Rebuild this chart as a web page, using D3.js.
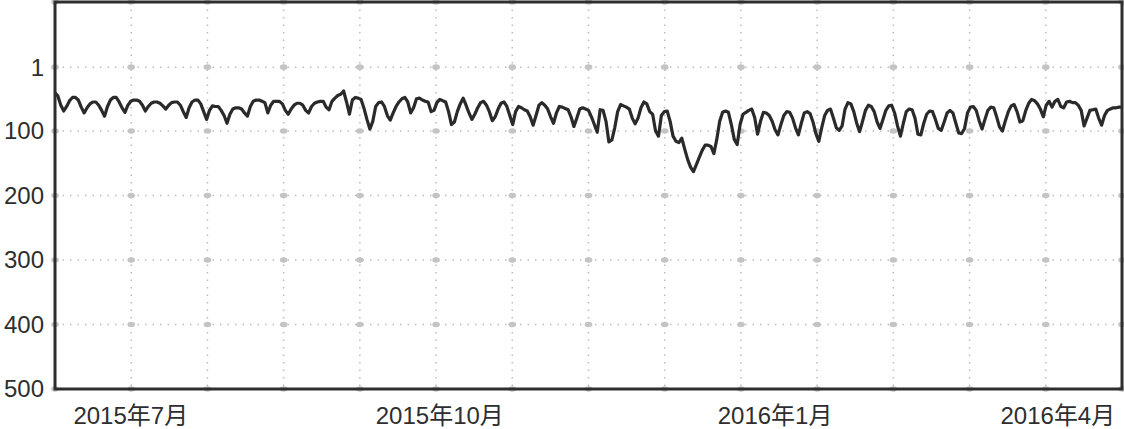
<!DOCTYPE html>
<html>
<head>
<meta charset="utf-8">
<title>Rank chart</title>
<script src="https://cdn.jsdelivr.net/npm/d3@7"></script>
<style>
body { margin: 0; background: #fff; }
text { font-family: "Liberation Sans", Arial, "Noto Sans CJK SC", sans-serif; font-size: 24px; fill: #2e2e2e; }
</style>
</head>
<body>
<svg id="chart" width="1124" height="429"></svg>
<script>
// daily rank, one row per week
var rank = [
  41, 46, 60, 69, 62, 53, 48,
  48, 52, 63, 72, 64, 58, 55,
  55, 60, 68, 77, 62, 52, 48,
  48, 55, 64, 71, 60, 54, 52,
  52, 54, 60, 69, 62, 57, 55,
  55, 57, 61, 66, 60, 56, 55,
  55, 60, 70, 79, 64, 55, 52,
  52, 58, 70, 82, 68, 61, 62,
  62, 68, 76, 88, 74, 66, 64,
  64, 66, 72, 77, 62, 54, 52,
  52, 54, 56, 72, 60, 54, 54,
  54, 58, 68, 74, 66, 60, 57,
  57, 60, 68, 72, 62, 57, 55,
  54, 54, 63, 67, 54, 49, 45,
  43, 38, 55, 74, 52, 48, 49,
  51, 65, 82, 97, 85, 62, 56,
  55, 62, 76, 83, 72, 62, 55,
  50, 48, 55, 72, 64, 50, 49,
  52, 54, 55, 70, 68, 56, 51,
  53, 55, 70, 90, 86, 70, 58,
  49, 60, 72, 82, 74, 64, 56,
  54, 60, 70, 84, 78, 66, 57,
  55, 62, 76, 90, 70, 62, 64,
  67, 69, 78, 91, 76, 60, 56,
  60, 66, 78, 88, 72, 62, 63,
  65, 67, 78, 93, 80, 66, 64,
  66, 68, 78, 90, 102, 67, 68,
  85, 117, 114, 95, 70, 59, 61,
  63, 66, 80, 89, 80, 64, 55,
  58, 70, 74, 100, 108, 76, 70,
  69, 85, 108, 116, 118, 111, 128,
  144, 156, 163, 152, 141, 130, 122,
  122, 124, 135, 113, 85, 71, 69,
  71, 90, 113, 121, 90, 74, 71,
  68, 66, 79, 105, 85, 71, 72,
  76, 85, 98, 106, 90, 76, 70,
  71, 80, 95, 106, 88, 72, 70,
  73, 86, 104, 116, 95, 76, 68,
  66, 80, 95, 99, 92, 66, 56,
  58, 70, 88, 101, 85, 68, 60,
  62, 70, 86, 96, 82, 68, 61,
  60, 72, 92, 108, 88, 70, 66,
  67, 80, 105, 106, 88, 74, 69,
  70, 82, 96, 99, 86, 72, 68,
  72, 88, 103, 104, 96, 72, 63,
  62, 68, 84, 97, 82, 68, 63,
  64, 78, 94, 100, 84, 70, 61,
  59, 70, 86, 84, 68, 57, 51,
  53, 58, 66, 78, 60, 54, 63,
  54, 51, 62, 64, 55, 54, 56,
  56, 60, 68, 92, 80, 68, 67,
  66, 80, 91, 76, 68, 66, 64,
  64, 63, 63
];

var yTicks = [1, 100, 200, 300, 400, 500];
var xTickIdx = [26, 132, 247, 344];
var xTickLabels = ["2015年7月", "2015年10月", "2016年1月", "2016年4月"];

var plotL = 55, plotR = 1122, plotT = 2, plotB = 389;
var svg = d3.select("#chart");

var x = d3.scaleLinear().domain([0, rank.length - 1]).range([plotL, plotR]);
var y = d3.scaleLinear().domain([-100, 500]).range([plotT, plotB]);

// 14 equal columns, grid rows at the ticks
var gridX = d3.range(0, 15).map(function(k) { return k * (rank.length - 1) / 14; });
var gridY = [-100].concat(yTicks);

var grid = svg.append("g");
grid.selectAll("line.v")
  .data(gridX.slice(1, 14))
  .enter().append("line")
  .attr("x1", function(d) { return x(d); })
  .attr("x2", function(d) { return x(d); })
  .attr("y1", plotT)
  .attr("y2", plotB)
  .attr("stroke", "#bdbdbd")
  .attr("stroke-width", 1.5)
  .attr("stroke-dasharray", "1.5,6");

grid.selectAll("line.h")
  .data(yTicks.slice(0, 5))
  .enter().append("line")
  .attr("x1", plotL)
  .attr("x2", plotR)
  .attr("y1", function(d) { return y(d); })
  .attr("y2", function(d) { return y(d); })
  .attr("stroke", "#bdbdbd")
  .attr("stroke-width", 1.5)
  .attr("stroke-dasharray", "1.5,6");

var cross = [];
gridX.forEach(function(gx) { gridY.forEach(function(gy) { cross.push([gx, gy]); }); });
grid.selectAll("ellipse")
  .data(cross)
  .enter().append("ellipse")
  .attr("cx", function(d) { return x(d[0]); })
  .attr("cy", function(d) { return y(d[1]); })
  .attr("rx", 3.8)
  .attr("ry", 2.8)
  .attr("fill", "#c4c4c4");

var line = d3.line()
  .x(function(d, i) { return x(i); })
  .y(function(d) { return y(d); });

svg.append("path")
  .datum(rank)
  .attr("d", line)
  .attr("fill", "none")
  .attr("stroke", "#2a2a2a")
  .attr("stroke-width", 3.2)
  .attr("stroke-linejoin", "round");

svg.append("rect")
  .attr("x", plotL)
  .attr("y", plotT)
  .attr("width", plotR - plotL)
  .attr("height", plotB - plotT)
  .attr("fill", "none")
  .attr("stroke", "#2e2e2e")
  .attr("stroke-width", 3);

svg.selectAll("text.y")
  .data(yTicks)
  .enter().append("text")
  .attr("class", "y")
  .attr("x", 44)
  .attr("y", function(d) { return y(d); })
  .attr("dy", "0.35em")
  .attr("text-anchor", "end")
  .text(function(d) { return d; });

svg.selectAll("text.x")
  .data(xTickIdx)
  .enter().append("text")
  .attr("class", "x")
  .attr("x", function(d) { return x(d); })
  .attr("y", 424)
  .attr("text-anchor", "middle")
  .text(function(d, i) { return xTickLabels[i]; });
</script>
</body>
</html>
